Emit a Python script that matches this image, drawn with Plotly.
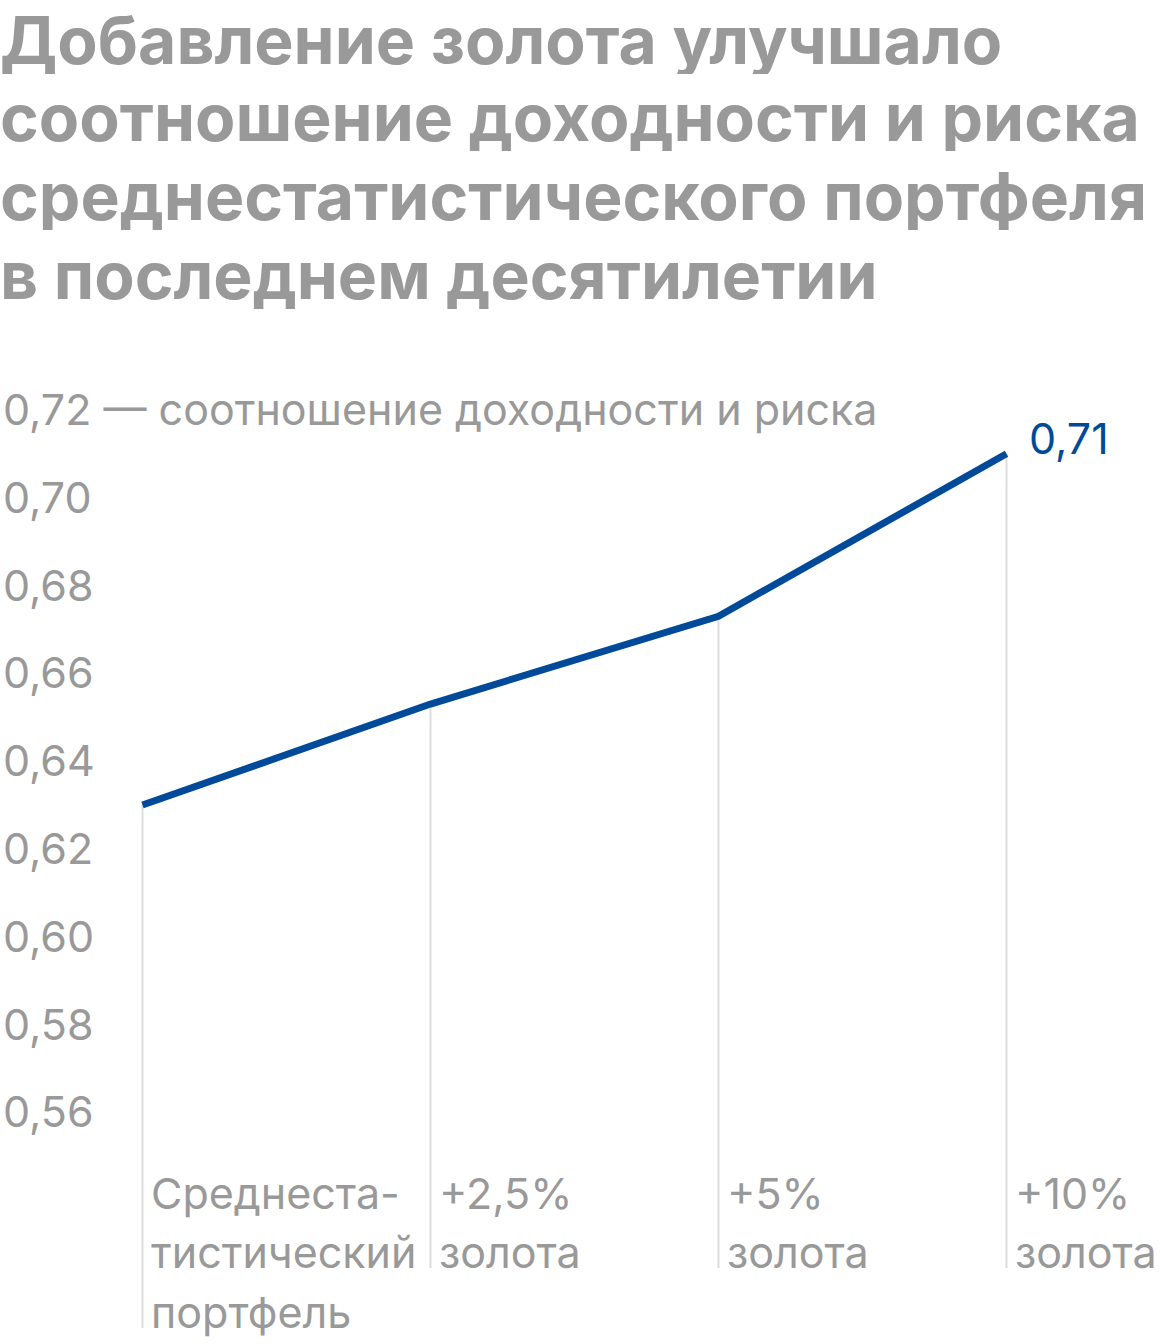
import plotly.graph_objects as go

categories = ["Среднеста-<br>тистический<br>портфель", "+2,5%<br>золота", "+5%<br>золота", "+10%<br>золота"]
values = [0.63, 0.653, 0.673, 0.71]
y_tickvals = [0.56, 0.58, 0.60, 0.62, 0.64, 0.66, 0.68, 0.70, 0.72]
y_ticktext = ["0,56", "0,58", "0,60", "0,62", "0,64", "0,66", "0,68", "0,70",
              "0,72 — соотношение доходности и риска"]
end_label = "0,71"
title_lines = ["Добавление золота улучшало", "соотношение доходности и риска",
               "среднестатистического портфеля", "в последнем десятилетии"]

BLUE = "#004a99"
GREY = "#999999"
FONT = "Inter"

W, H = 1160, 1344
T, B = 366, 179
PLOT_H = H - T - B

def py(pix):
    # pixel row from top -> paper coordinate
    return (H - B - pix) / PLOT_H

y_range = [0.548, 0.73]
x_range = [-0.4948, 3.533]

fig = go.Figure()
fig.add_trace(go.Scatter(
    x=list(range(len(categories))), y=values, mode="lines",
    line=dict(color=BLUE, width=7), hoverinfo="skip", showlegend=False,
))

# vertical guide lines from each point down through the labels
bottoms = [py(1328), py(1268), py(1268), py(1268)]
for i, v in enumerate(values):
    fig.add_shape(type="line", xref="x", yref="paper",
                  x0=i, x1=i, y0=(v - y_range[0]) / (y_range[1] - y_range[0]), y1=bottoms[i],
                  line=dict(color="#dddddd", width=2), layer="below")

# category labels, left aligned to the right of each guide line
label_rows = [1193, 1252, 1312]
for i, cat in enumerate(categories):
    for j, part in enumerate(cat.split("<br>")):
        fig.add_annotation(x=i, xref="x", y=py(label_rows[j]), yref="paper", text=part,
                           showarrow=False, xanchor="left", yanchor="middle", xshift=6,
                           height=54, valign="middle",
                           font=dict(family=FONT, size=43, color=GREY))

fig.add_annotation(x=len(values) - 1, y=values[-1], text=end_label, showarrow=False,
                   xanchor="left", yanchor="middle", xshift=20, yshift=16,
                   font=dict(family=FONT, size=43, color=BLUE))

title_centers = [40, 117, 196, 275]
for line, c in zip(title_lines, title_centers):
    fig.add_annotation(x=0, xref="paper", y=py(c), yref="paper", text=line,
                       showarrow=False, xanchor="left", yanchor="middle", xshift=-2,
                       height=68, valign="middle",
                       font=dict(family=FONT, size=66, color=GREY, weight="bold"))

fig.update_layout(
    width=W, height=H,
    margin=dict(l=0, r=0, t=T, b=B),
    paper_bgcolor="white", plot_bgcolor="white",
    xaxis=dict(range=x_range, tickmode="array", tickvals=list(range(len(categories))),
               showticklabels=False, showgrid=False, zeroline=False, showline=False,
               ticks=""),
    yaxis=dict(range=y_range, tickmode="array", tickvals=y_tickvals, ticktext=y_ticktext,
               showgrid=False, zeroline=False, showline=False, ticks="",
               ticklabelposition="inside",
               tickfont=dict(family=FONT, size=43, color=GREY)),
)

fig.write_html("out.html")
